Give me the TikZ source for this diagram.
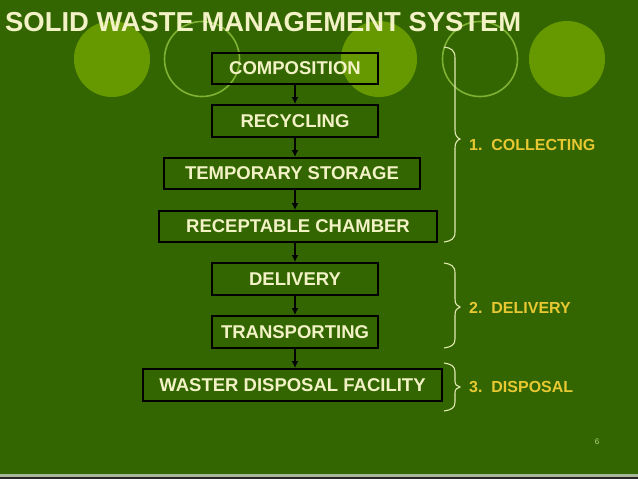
\documentclass[tikz,border=0pt]{standalone}
\usepackage{fontspec}
\setmainfont{Liberation Sans}
\usetikzlibrary{arrows.meta}
\definecolor{bg}{HTML}{336600}
\definecolor{disc}{HTML}{669900}
\definecolor{ring}{HTML}{80B034}
\definecolor{cream}{HTML}{F2F2C6}
\definecolor{lab}{HTML}{E8C832}
\definecolor{brc}{HTML}{E2E8B4}
\definecolor{pg}{HTML}{B8D888}
\definecolor{strip}{HTML}{A8B898}
\tikzset{
  stepbox/.style={draw=black, line width=2pt, inner sep=0pt, text=cream,
    font=\bfseries\fontsize{18.5}{20}\selectfont},
  arr/.style={draw=black, line width=1.5pt, -{Latex[length=7pt,width=7pt]}},
  brace/.style={draw=brc, line width=1.1pt},
  lbl/.style={text=lab, anchor=west, inner sep=0pt, font=\bfseries\fontsize{16}{18}\selectfont},
}
\begin{document}
\begin{tikzpicture}[x=1pt,y=-1pt]
\useasboundingbox (0,0) rectangle (638,479);
\fill[bg] (0,0) rectangle (638,479);
% decorative circles
\fill[disc] (112,59) circle (38);
\draw[ring, line width=1.6pt] (202,59) circle (37.5);
\fill[disc] (379,59) circle (38);
\draw[ring, line width=1.6pt] (480,59) circle (37.5);
\fill[disc] (567,59) circle (38);
% bottom strip
\fill[strip] (0,474) rectangle (638,476.5);
\fill[black!85] (0,476.5) rectangle (638,479);
% title
\node[anchor=base west, inner sep=0pt, text=cream, font=\bfseries\fontsize{27.4}{30}\selectfont] (title) at (5,31) {SOLID WASTE MANAGEMENT SYSTEM};
% boxes
\node[stepbox, minimum width=166pt, minimum height=31pt] (comp) at (295,68.5) {COMPOSITION};
\node[stepbox, minimum width=166pt, minimum height=32pt] (recy) at (295,121) {RECYCLING};
\node[stepbox, minimum width=256pt, minimum height=31pt] (temp) at (292,173.5) {TEMPORARY STORAGE};
\node[stepbox, minimum width=278pt, minimum height=31pt] (rece) at (298,226.5) {RECEPTABLE CHAMBER};
\node[stepbox, minimum width=166pt, minimum height=32pt] (deli) at (295,279) {DELIVERY};
\node[stepbox, minimum width=166pt, minimum height=32pt] (tran) at (295,332) {TRANSPORTING};
\node[stepbox, minimum width=299pt, minimum height=32pt] (wast) at (292.5,385) {WASTER DISPOSAL FACILITY};
\coordinate (ax) at (295,0);
\draw[arr] (comp.south -| ax) -- (recy.north -| ax);
\draw[arr] (recy.south -| ax) -- (temp.north -| ax);
\draw[arr] (temp.south -| ax) -- (rece.north -| ax);
\draw[arr] (rece.south -| ax) -- (deli.north -| ax);
\draw[arr] (deli.south -| ax) -- (tran.north -| ax);
\draw[arr] (tran.south -| ax) -- (wast.north -| ax);
% braces
\draw[brace] (444,47) .. controls (451,48) and (455,50) .. (455,58) -- (455,130)
  .. controls (455,135) and (457,138) .. (460,139)
  .. controls (457,140) and (455,143) .. (455,148) -- (455,232)
  .. controls (455,239) and (451,241) .. (444,242);
\draw[brace] (444,263) .. controls (451,264) and (455,266) .. (455,273) -- (455,299)
  .. controls (455,304) and (457,306) .. (460,307)
  .. controls (457,308) and (455,310) .. (455,315) -- (455,339)
  .. controls (455,345) and (451,347) .. (444,348);
\draw[brace] (444,363) .. controls (451,364) and (455,366) .. (455,372) -- (455,381)
  .. controls (455,385) and (457,386) .. (460,387)
  .. controls (457,388) and (455,389) .. (455,393) -- (455,402)
  .. controls (455,408) and (451,410) .. (444,411);
% labels
\node[lbl] (l1) at (469,145) {1.\ \ COLLECTING};
\node[lbl] (l2) at (469,308) {2.\ \ DELIVERY};
\node[lbl] (l3) at (469,387) {3.\ \ DISPOSAL};
% page number
\node[text=pg, inner sep=0pt, font=\fontsize{8}{9}\selectfont] (pnum) at (597,442) {6};
\end{tikzpicture}
\end{document}
